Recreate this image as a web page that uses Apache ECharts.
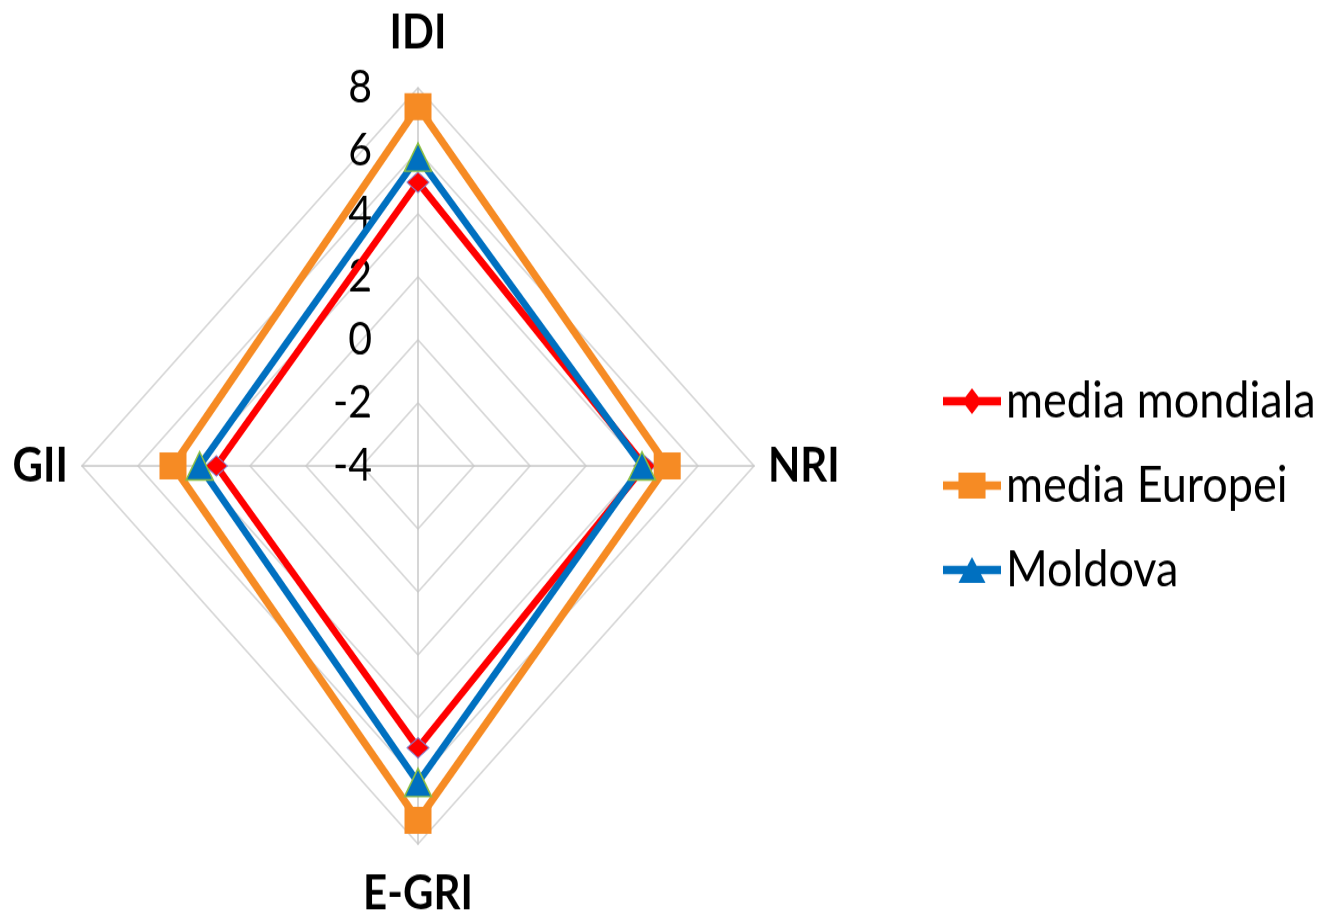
<!DOCTYPE html>
<html>
<head>
<meta charset="utf-8">
<script src="https://cdn.jsdelivr.net/npm/echarts@6/dist/echarts.min.js"></script>
<style>
  html, body { margin: 0; padding: 0; background: #ffffff; overflow: hidden; }
  #wrap { width: 1321px; height: 916px; position: relative; overflow: hidden; }
  #main { width: 1321px; height: 814px; transform: scaleY(1.1253); transform-origin: 0 0; }
</style>
</head>
<body>
<div id="wrap"><div id="main"></div></div>
<script>
// Indicators in ECharts order (counter-clockwise from top): top, left, bottom, right
const indicatorNames = ['IDI', 'GII', 'E-GRI', 'NRI'];
const axisMin = -4;
const axisMax = 8;
const tickLabels = ['-4', '-2', '0', '2', '4', '6', '8'];

const seriesNames = ['media mondiala', 'media Europei', 'Moldova'];
// values in the same order as indicatorNames: IDI, GII, E-GRI, NRI
const mediaMondiala = [5.0, 3.2, 4.95, 4.1];
const mediaEuropei = [7.4, 4.75, 7.25, 4.9];
const moldova = [5.8, 3.8, 6.05, 4.0];

const colors = ['#ff0000', '#f68b24', '#0070c0'];

const chart = echarts.init(document.getElementById('main'), null, { renderer: 'canvas' });

const indicator = indicatorNames.map((n, i) => ({
  name: n,
  min: axisMin,
  max: axisMax,
  axisLabel: { show: i === 0 }
}));

const legendIcons = [
  'path://M0 8 H60 V16 H0 Z M30 0 L40 12 L30 24 L20 12 Z',
  'path://M0 8 H60 V16 H0 Z M16 0 H44 V24 H16 Z',
  'path://M0 8 H60 V16 H0 Z M30 0 L44 24 L16 24 Z'
];

const nameFont = { color: '#000000', fontFamily: 'Lato', fontWeight: 'bold', fontSize: 42 };

const option = {
  backgroundColor: '#ffffff',
  animation: false,
  legend: {
    orient: 'vertical',
    left: 938,
    top: 329,
    itemWidth: 58,
    itemHeight: 24,
    itemGap: 30,
    textStyle: { fontFamily: 'Lato', fontSize: 45, color: '#000000', lineHeight: 45 },
    data: seriesNames.map((n, i) => ({ name: n, icon: legendIcons[i], itemStyle: { borderWidth: 0 } }))
  },
  radar: {
    center: [418, 414],
    radius: 336,
    startAngle: 90,
    shape: 'polygon',
    splitNumber: 6,
    indicator: indicator,
    axisName: Object.assign({
      formatter: function (name) {
        if (name === 'IDI') return '{t|' + name + '}';
        if (name === 'E-GRI') return '{b|' + name + '}';
        return name;
      },
      rich: {
        t: Object.assign({ padding: [0, 0, 14, 0] }, nameFont),
        b: Object.assign({ padding: [9, 0, 0, 0] }, nameFont)
      }
    }, nameFont),
    nameGap: 14,
    axisLine: { show: true, lineStyle: { color: '#c8c8c8', width: 1.5 } },
    splitLine: { show: true, lineStyle: { color: '#d4d4d4', width: 1.5 } },
    splitArea: { show: false },
    axisTick: { show: false },
    axisLabel: {
      show: true,
      fontFamily: 'Lato',
      fontSize: 41,
      color: '#000000',
      margin: 46
    }
  },
  series: [
    {
      type: 'radar',
      z: 2,
      symbol: 'diamond',
      symbolSize: [22, 18],
      lineStyle: { width: 6.5, color: colors[0] },
      itemStyle: { color: colors[0], borderColor: '#8080d0', borderWidth: 1 },
      data: [{ name: seriesNames[0], value: mediaMondiala }]
    },
    {
      type: 'radar',
      z: 3,
      symbol: 'rect',
      symbolSize: [27, 24],
      lineStyle: { width: 7, color: colors[1] },
      itemStyle: { color: colors[1] },
      data: [{ name: seriesNames[1], value: mediaEuropei }]
    },
    {
      type: 'radar',
      z: 4,
      symbol: 'triangle',
      symbolSize: [27, 25],
      lineStyle: { width: 6.5, color: colors[2] },
      itemStyle: { color: colors[2], borderColor: '#8cbf44', borderWidth: 1.5 },
      data: [{ name: seriesNames[2], value: moldova }]
    }
  ]
};

chart.setOption(option);
</script>
</body>
</html>
